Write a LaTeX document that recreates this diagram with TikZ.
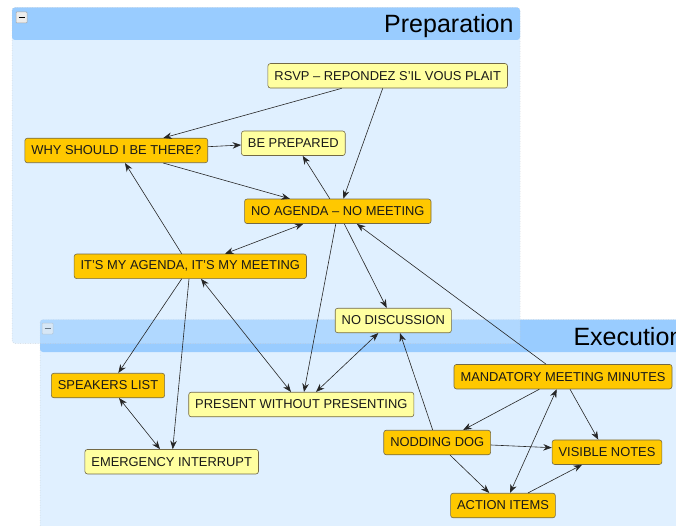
\documentclass[tikz,border=0pt]{standalone}
\usepackage{fontspec}
\setmainfont{Liberation Sans}
\usetikzlibrary{arrows.meta}
\definecolor{hdr}{RGB}{153,204,255}
\definecolor{bodyc}{RGB}{224,240,255}
\definecolor{prepbody}{RGB}{197,227,255}
\definecolor{orangec}{RGB}{255,200,0}
\definecolor{yellowc}{RGB}{255,255,160}
\definecolor{bordc}{RGB}{115,105,70}
\definecolor{txtc}{RGB}{25,25,25}
\tikzset{
  box/.style={draw=bordc, rounded corners=2.5pt, minimum height=24.5pt, inner xsep=6.5pt,
    font=\fontsize{12.9}{14}\selectfont, text=txtc, line width=0.6pt},
  obox/.style={box, fill=orangec},
  ybox/.style={box, fill=yellowc},
  conn/.style={line width=0.6pt, draw=black!85},
  arr/.style={conn, -{Stealth[length=8.5pt,width=6.5pt]}},
  darr/.style={conn, {Stealth[length=8.5pt,width=6.5pt]}-{Stealth[length=8.5pt,width=6.5pt]}},
  panelborder/.style={draw=gray!45, dotted, line width=0.5pt},
  title/.style={font=\fontsize{25}{30}\selectfont, text=black},
  minusbox/.style={draw=gray!70, fill=gray!15, line width=0.5pt},
}
\begin{document}
\begin{tikzpicture}[x=1pt,y=-1pt]
\useasboundingbox (0,0) rectangle (676,526);
\begin{scope}
\clip (0,0) rectangle (676,526);
% Execution panel (drawn first, underneath)
\fill[bodyc, rounded corners=3] (40,319.5) rectangle (700,560);
\fill[hdr, rounded corners=3] (40,319.5) rectangle (700,352);
\draw[panelborder, rounded corners=3] (40,319.5) rectangle (700,560);
\node[title, anchor=base west] (exectitle) at (570,345) {Execution};
\draw[minusbox, rounded corners=0.8] (42,323) rectangle (53,334);
\draw[line width=1.3pt] (44.5,328.5) -- (50.5,328.5);
% Preparation panel
\fill[prepbody, fill opacity=0.53, rounded corners=3] (12,20) rectangle (520,343.5);
\fill[hdr, rounded corners=3] (12,7.5) rectangle (520,40);
\draw[panelborder, rounded corners=3] (12,7.5) rectangle (520,343.5);
\node[title, anchor=base east] (preptitle) at (517,33) {Preparation};
\draw[minusbox, rounded corners=0.8] (16,12) rectangle (27,23);
\draw[line width=1.3pt] (18.5,17.5) -- (24.5,17.5);
\end{scope}

% Nodes
\node[ybox] (rsvp) at (387.7,75.8) {RSVP – REPONDEZ S'IL VOUS PLAIT};
\node[ybox] (bep) at (293.3,143.3) {BE PREPARED};
\node[obox] (why) at (116.3,150.5) {WHY SHOULD I BE THERE?};
\node[obox] (noag) at (337.8,211.3) {NO AGENDA – NO MEETING};
\node[obox] (itsmy) at (190.3,266.3) {IT'S MY AGENDA, IT'S MY MEETING};
\node[ybox] (nodisc) at (393.3,320.5) {NO DISCUSSION};
\node[ybox] (present) at (301.3,404.5) {PRESENT WITHOUT PRESENTING};
\node[obox] (speak) at (108,385.5) {SPEAKERS LIST};
\node[ybox] (emerg) at (171.7,461.7) {EMERGENCY INTERRUPT};
\node[obox] (mmm) at (563,376.7) {MANDATORY MEETING MINUTES};
\node[obox] (nod) at (437.2,442.5) {NODDING DOG};
\node[obox] (vis) at (607,452.2) {VISIBLE NOTES};
\node[obox] (act) at (503,505.5) {ACTION ITEMS};

% Connectors
\draw[arr] ([xshift=-46pt]rsvp.south) -- ([xshift=47pt]why.north);
\draw[arr] ([xshift=-5pt]rsvp.south) -- ([xshift=5.5pt]noag.north);
\draw[arr] ([yshift=3.8pt]why.east) -- ([yshift=-1.7pt]bep.west);
\draw[arr] ([xshift=47pt]why.south) -- ([xshift=-48pt]noag.north);
\draw[arr] ([xshift=-8pt]noag.north) -- ([xshift=9.4pt]bep.south);
\draw[darr] ([xshift=34.7pt]itsmy.north) -- ([xshift=-34.5pt]noag.south);
\draw[arr] ([xshift=-8.6pt]itsmy.north) -- ([xshift=8.7pt]why.south);
\draw[arr] ([xshift=6.5pt]noag.south) -- ([xshift=-6.6pt]nodisc.north);
\draw[arr] ([xshift=-2pt]noag.south) -- ([xshift=2.7pt]present.north);
\draw[arr] ([xshift=-17pt]mmm.north) -- ([xshift=19pt]noag.south);
\draw[darr] ([xshift=10.7pt]itsmy.south) -- ([xshift=-10.3pt]present.north);
\draw[arr] ([xshift=-8.6pt]itsmy.south) -- ([xshift=10.3pt]speak.north);
\draw[arr] ([xshift=-1.3pt]itsmy.south) -- ([xshift=1pt]emerg.north);
\draw[darr] ([xshift=11pt]speak.south) -- ([xshift=-11.7pt]emerg.north);
\draw[darr] ([xshift=-15pt]nodisc.south) -- ([xshift=14.7pt]present.north);
\draw[arr] ([xshift=-4.5pt]nod.north) -- ([xshift=6.7pt]nodisc.south);
\draw[arr] ([xshift=-23.7pt]mmm.south) -- ([xshift=26pt]nod.north);
\draw[arr] ([xshift=7pt]mmm.south) -- ([xshift=-8.7pt]vis.north);
\draw[arr] ([yshift=-2.5pt]nod.east) -- ([yshift=4.5pt]vis.west);
\draw[arr] ([xshift=12.8pt]nod.south) -- ([xshift=-13.7pt]act.north);
\draw[darr] ([xshift=7pt]act.north) -- ([xshift=-6.3pt]mmm.south);
\draw[arr] ([xshift=25pt]act.north) -- ([xshift=-25pt]vis.south);
\end{tikzpicture}
\end{document}
